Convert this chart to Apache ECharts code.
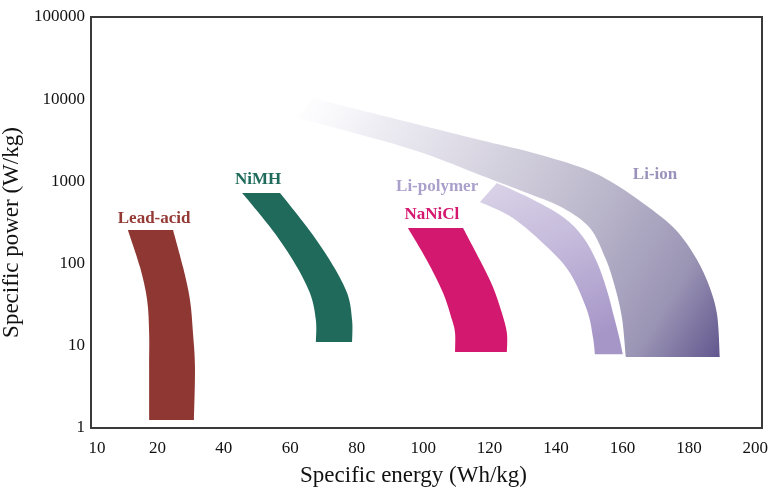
<!DOCTYPE html>
<html>
<head>
<meta charset="utf-8">
<script src="https://cdn.jsdelivr.net/npm/echarts@6/dist/echarts.min.js"></script>
<style>html,body{margin:0;padding:0;background:#fff}#c{width:774px;height:493px}</style>
</head>
<body>
<div id="c"></div>
<script>
// Tick labels (x label at 0 reads "10" in the original figure)
const xTickValues = [0, 20, 40, 60, 80, 100, 120, 140, 160, 180, 200];
const xTickLabels = ['10', '20', '40', '60', '80', '100', '120', '140', '160', '180', '200'];
const yTickValues = [1, 10, 100, 1000, 10000, 100000];
const yTickLabels = ['1', '10', '100', '1000', '10000', '100000'];

// Region boundaries: [specific energy (Wh/kg), specific power (W/kg)]
const leadAcidLeft  = [[11.1,257],[14.75,90.8],[16.9,36],[17.5,14.3],[17.5,5.5],[17.5,1.25]];
const leadAcidRight = [[24.7,257],[27.7,90.8],[29.8,36],[30.7,14.3],[31.3,5.5],[31.0,1.25]];

const nimhInner = [[45.5,722],[53.9,279],[60.8,110],[65.9,44],[67.7,20.6],[67.7,11.1]];
const nimhOuter = [[56.9,722],[65.0,279],[71.9,110],[77.1,44],[78.6,20.6],[78.6,11.1]];

const nanicLeft  = [[95.4,271],[101.1,110],[106.0,44],[108.7,20.6],[109.6,14.3],[109.6,8.4]];
const nanicRight = [[112.0,271],[117.1,110],[121.0,51.9],[123.7,25],[125.2,14.3],[125.2,8.4]];

const liPolyInner = [[117.1,561],[127.0,359],[137.3,159],[144.2,77],[149.3,27.3],[151.1,12.8],[151.7,7.9]];
const liPolyOuter = [[122.2,957],[132.1,628],[142.1,369],[148.1,211],[152.3,104.5],[155.3,47.7],[157.7,20.6],[159.2,11.8],[160.1,7.9]];

const liIonLower = [[62.0,5910],[77.1,4100],[99.0,2280],[117.1,1197],[132.1,703],[142.1,475],[150.2,271],[154.7,120],[157.4,58],[159.8,22.4],[161.0,7.3]];
const liIonUpper = [[66.8,10350],[81.0,7390],[99.0,4855],[117.1,3190],[132.1,2280],[147.2,1497],[156.2,1012],[165.3,578],[175.2,279],[181.2,135],[185.4,63],[188.4,25],[189.3,7.3]];

// Text labels of the regions
const regionNames = ['Lead-acid', 'NiMH', 'NaNiCl', 'Li-polymer', 'Li-ion'];
const regionLabelAt = [[19.0,349],[50.3,1040],[102.6,390],[104.2,855],[169.8,1197]];
const regionLabelColors = ['#943934', '#1f6b5c', '#d4176f', '#ab9fcc', '#9a92bb'];

const G = echarts.graphic;
const shapes = [
  { a: leadAcidLeft, b: leadAcidRight, fill: '#8f3833' },
  { a: nimhInner, b: nimhOuter, fill: '#1f6a5b' },
  { a: nanicLeft, b: nanicRight, fill: '#d3186f' },
  { a: liPolyOuter, b: liPolyInner, fill: new G.LinearGradient(0, 0, 0.5, 1, [
      { offset: 0, color: '#dad4e8' }, { offset: 0.5, color: '#c3b8da' }, { offset: 1, color: '#a696c8' }]) },
  { a: liIonUpper, b: liIonLower, fill: new G.LinearGradient(0, 0, 1, 1, [
      { offset: 0, color: 'rgba(250,250,253,0.2)' }, { offset: 0.15, color: '#f0eff5' },
      { offset: 0.4, color: '#d6d3e0' }, { offset: 0.62, color: '#bcb8cc' },
      { offset: 0.85, color: '#9b95b5' }, { offset: 1, color: '#62578e' }]) }
];

// Smooth path (Catmull-Rom) through pixel points
function curveThrough(p, first) {
  let d = first ? 'M' + p[0][0] + ' ' + p[0][1] : 'L' + p[0][0] + ' ' + p[0][1];
  for (let i = 0; i < p.length - 1; i++) {
    const p0 = p[Math.max(i - 1, 0)], p1 = p[i], p2 = p[i + 1], p3 = p[Math.min(i + 2, p.length - 1)];
    const c1x = p1[0] + (p2[0] - p0[0]) / 6, c1y = p1[1] + (p2[1] - p0[1]) / 6;
    const c2x = p2[0] - (p3[0] - p1[0]) / 6, c2y = p2[1] - (p3[1] - p1[1]) / 6;
    d += 'C' + c1x + ' ' + c1y + ' ' + c2x + ' ' + c2y + ' ' + p2[0] + ' ' + p2[1];
  }
  return d;
}

const font = '"Liberation Serif", "Times New Roman", serif';

const series = shapes.map(s => ({
  type: 'custom',
  coordinateSystem: 'cartesian2d',
  data: [[0, 1]],
  silent: true,
  renderItem: function (params, api) {
    const a = s.a.map(p => api.coord(p));
    const b = s.b.slice().reverse().map(p => api.coord(p));
    const d = curveThrough(a, true) + curveThrough(b, false) + 'Z';
    return { type: 'path', shape: { pathData: d }, style: { fill: s.fill, stroke: null } };
  }
}));

series.push({
  type: 'custom',
  coordinateSystem: 'cartesian2d',
  silent: true,
  data: regionLabelAt.map((p, i) => [p[0], p[1], i]),
  renderItem: function (params, api) {
    const i = api.value(2);
    const pt = api.coord([api.value(0), api.value(1)]);
    return { type: 'text', x: pt[0], y: pt[1],
      style: { text: regionNames[i], fill: regionLabelColors[i], font: 'bold 17px ' + font,
               align: 'center', verticalAlign: 'middle' } };
  }
});

const chart = echarts.init(document.getElementById('c'), null, { renderer: 'canvas' });
chart.setOption({
  animation: false,
  backgroundColor: '#ffffff',
  grid: { left: 91, right: 12, top: 17, bottom: 65, containLabel: false, outerBoundsMode: 'none',
          show: true, borderColor: '#3a3a3a', borderWidth: 2, backgroundColor: 'transparent' },
  xAxis: {
    type: 'value', min: 0, max: 202, interval: 20,
    name: 'Specific energy (Wh/kg)', nameLocation: 'middle', nameGap: 36,
    nameTextStyle: { fontFamily: font, fontSize: 23, color: '#111', verticalAlign: 'top', padding: [0, 26, 0, 0] },
    axisLine: { show: false }, axisTick: { show: false }, splitLine: { show: false },
    axisLabel: { margin: 12, fontFamily: font, fontSize: 17, color: '#111',
      rich: { s: { fontFamily: font, fontSize: 17, color: '#111', padding: [0, 0, 0, 12] } },
      formatter: v => { const i = xTickValues.indexOf(v); return i < 0 ? '' : (i === 0 ? '{s|' + xTickLabels[i] + '}' : xTickLabels[i]); } }
  },
  yAxis: {
    type: 'log', logBase: 10, min: 1, max: 100000,
    name: 'Specific power (W/kg)', nameLocation: 'middle', nameGap: 47,
    nameTextStyle: { fontFamily: font, fontSize: 23, color: '#111', padding: [0, 20, 0, 0] },
    axisLine: { show: false }, axisTick: { show: false }, splitLine: { show: false },
    axisLabel: { margin: 6, fontFamily: font, fontSize: 17, color: '#111',
      formatter: v => { const i = yTickValues.findIndex(t => Math.abs(t - v) / t < 1e-6); return i < 0 ? '' : yTickLabels[i]; } }
  },
  series: series
});
</script>
</body>
</html>
